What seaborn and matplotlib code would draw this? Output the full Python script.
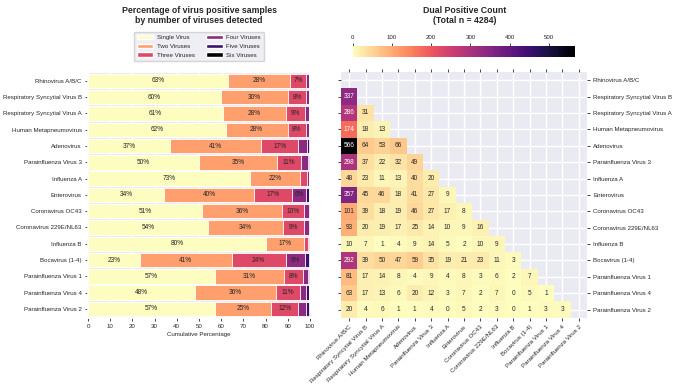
import numpy as np
import pandas as pd
import matplotlib
matplotlib.use("Agg")
import matplotlib.pyplot as plt
from matplotlib.patches import Patch
import seaborn as sns

viruses = ["Rhinovirus A/B/C", "Respiratory Syncytial Virus B", "Respiratory Syncytial Virus A",
           "Human Metapneumovirus", "Adenovirus", "Parainfluenza Virus 3", "Influenza A",
           "Enterovirus", "Coronavirus OC43", "Coronavirus 229E/NL63", "Influenza B",
           "Bocavirus (1-4)", "Parainfluenza Virus 1", "Parainfluenza Virus 4", "Parainfluenza Virus 2"]

groups = ["Single Virus", "Two Viruses", "Three Viruses", "Four Viruses", "Five Viruses", "Six Viruses"]

single = [63.2, 60.0, 61.0, 62.0, 37.0, 50.1, 73.2, 34.4, 51.4, 54.1, 80.4, 23.3, 57.2, 48.4, 57.3]
two    = [27.8, 30.0, 28.0, 28.0, 41.0, 35.0, 22.4, 40.3, 35.9, 33.8, 17.0, 41.4, 31.3, 36.3, 25.3]
three  = [7.2, 8.4, 8.6, 8.2, 16.8, 10.9, 3.0, 17.3, 10.1, 9.4, 1.9, 24.3, 8.4, 10.8, 12.2]
four   = [1.4, 1.3, 1.8, 1.5, 3.8, 3.0, 1.1, 6.4, 2.4, 2.5, 0.7, 8.8, 2.0, 2.8, 3.4]
five   = [0.4, 0.3, 0.6, 0.3, 1.4, 1.0, 0.3, 1.2, 0.2, 0.2, 0.0, 2.2, 1.1, 1.1, 1.8]
six    = [0.0, 0.0, 0.0, 0.0, 0.0, 0.0, 0.0, 0.4, 0.0, 0.0, 0.0, 0.0, 0.0, 0.6, 0.0]

# Lower triangle of dual positive counts (row i has i values)
dual_rows = [
    [],
    [337],
    [286, 31],
    [174, 18, 13],
    [566, 64, 53, 66],
    [298, 37, 22, 32, 49],
    [48, 23, 11, 13, 40, 20],
    [357, 45, 46, 18, 41, 27, 9],
    [101, 39, 18, 19, 46, 27, 17, 8],
    [93, 20, 19, 17, 25, 14, 10, 9, 16],
    [10, 7, 1, 4, 9, 14, 5, 2, 10, 9],
    [292, 39, 50, 47, 59, 35, 19, 21, 23, 11, 3],
    [81, 17, 14, 8, 4, 9, 4, 8, 3, 6, 2, 7],
    [63, 17, 13, 6, 20, 12, 3, 7, 2, 7, 0, 5, 1],
    [20, 4, 6, 1, 1, 4, 0, 5, 2, 3, 0, 1, 3, 3],
]
total_n = 4284

sns.set_theme(style="darkgrid", rc={"xtick.bottom": True, "ytick.left": True,
                                    "xtick.major.size": 2.5, "ytick.major.size": 2.5,
                                    "xtick.major.width": 0.6, "ytick.major.width": 0.6,
                                    "xtick.major.pad": 2, "ytick.major.pad": 2})
plt.rcParams["font.family"] = ["Liberation Sans", "DejaVu Sans"]

FS = 4.4
AFS = 4.7
fig = plt.figure(figsize=(6.82, 3.91), dpi=100)
ax = fig.add_axes([0.129, 0.187, 0.3255, 0.629])
hax = fig.add_axes([0.5, 0.187, 0.3607, 0.629])
cax = fig.add_axes([0.517, 0.854, 0.326, 0.028])

cmap = plt.get_cmap("magma_r")
palette = [cmap(x) for x in np.linspace(0, 1, 6)]
layers = [single, two, three, four, five, six]
arr = np.array(layers)
cum = np.cumsum(arr, axis=0)

for k in range(5, -1, -1):
    df = pd.DataFrame({"virus": viruses, "value": cum[k]})
    sns.barplot(data=df, x="value", y="virus", orient="h", color=palette[k], ax=ax,
                width=0.88, edgecolor="white", linewidth=0.6, saturation=1)

for i in range(len(viruses)):
    start = 0
    for k in range(6):
        v = arr[k, i]
        if v >= 5:
            ax.text(start + v / 2, i, f"{round(v)}%", ha="center", va="center",
                    fontsize=AFS, color=".15")
        start += v

ax.set_xlim(0, 100)
ax.set_ylim(14.55, -0.55)
ax.set_xticks(range(0, 101, 10))
ax.set_xlabel("Cumulative Percentage", fontsize=FS, labelpad=2)
ax.set_ylabel("")
ax.tick_params(labelsize=FS)
handles = [Patch(facecolor=palette[k], label=groups[k]) for k in range(6)]
ax.legend(handles=handles, loc="lower center", bbox_to_anchor=(0.5, 1.045), ncol=2,
          fontsize=FS, columnspacing=1.8, handlelength=2.7, handleheight=0.8,
          borderpad=0.5, labelspacing=0.55, borderaxespad=0, handletextpad=0.6)

fig.text(0.292, 0.985, "Percentage of virus positive samples\nby number of viruses detected",
         ha="center", va="top", fontsize=6.3, fontweight="bold", color=".15", linespacing=1.1)

n = len(viruses)
mat = np.zeros((n, n))
for i, row in enumerate(dual_rows):
    for j, v in enumerate(row):
        mat[i, j] = v
mask = np.triu(np.ones((n, n), dtype=bool))
dmat = pd.DataFrame(mat, index=viruses, columns=viruses)

sns.heatmap(dmat, mask=mask, cmap="magma_r", annot=True, fmt=".0f",
            annot_kws={"fontsize": AFS}, ax=hax, cbar_ax=cax,
            cbar_kws={"orientation": "horizontal"}, vmin=0, vmax=566)
hax.set_xticks(np.arange(n) + 0.5)
hax.set_xticklabels(viruses, rotation=45, ha="right", rotation_mode="anchor", fontsize=FS)
hax.set_yticks(np.arange(n) + 0.5)
hax.set_yticklabels(viruses, rotation=0, fontsize=FS)
hax.tick_params(axis="both", top=True, bottom=True, left=True, right=True,
                labelleft=False, labelright=True, labelsize=FS)
hax.set_xlabel("")
hax.set_ylabel("")

cax.xaxis.set_ticks_position("top")
cax.xaxis.set_label_position("top")
cax.set_xticks([0, 100, 200, 300, 400, 500])
cax.tick_params(labelsize=FS, top=True, bottom=False, length=2.5, width=0.6, pad=2)

fig.text(0.681, 0.985, f"Dual Positive Count\n(Total n = {total_n})",
         ha="center", va="top", fontsize=6.3, fontweight="bold", color=".15", linespacing=1.1)

fig.savefig("out.png", dpi=100)
